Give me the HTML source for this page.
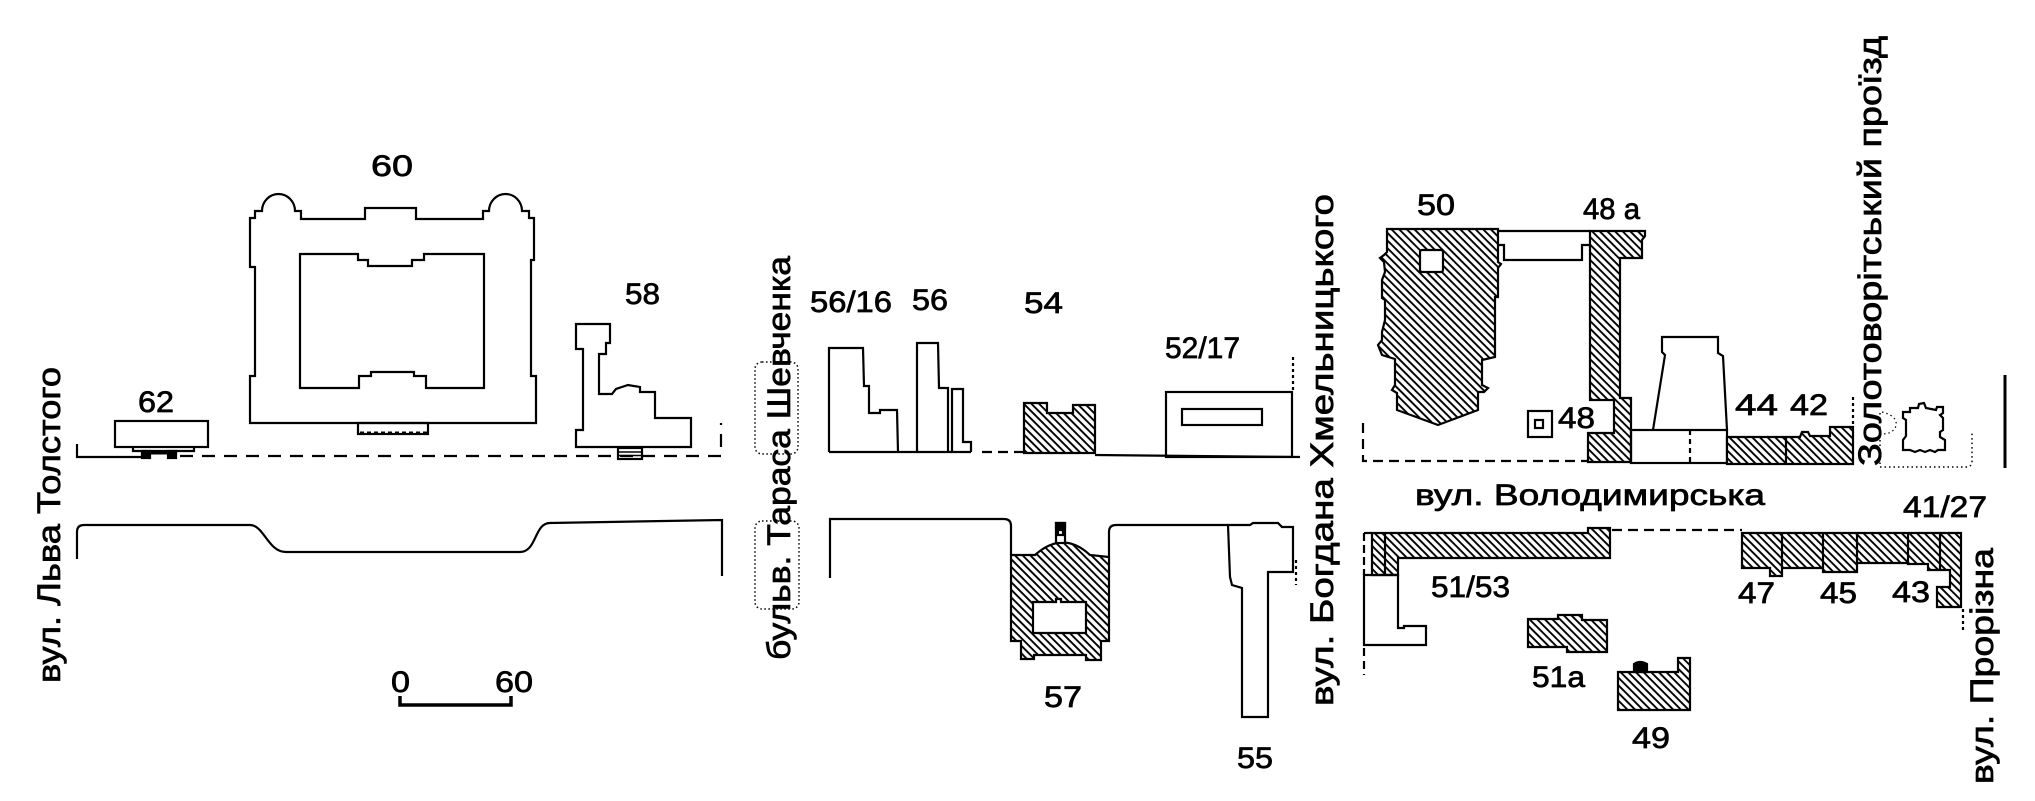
<!DOCTYPE html>
<html>
<head>
<meta charset="utf-8">
<style>
html,body{margin:0;padding:0;background:#fff;}
svg{display:block;}
</style>
</head>
<body>
<svg width="2035" height="801" viewBox="0 0 2035 801" xmlns="http://www.w3.org/2000/svg">
<defs>
<pattern id="h" patternUnits="userSpaceOnUse" width="5.4" height="5.4" patternTransform="rotate(-45)">
<rect width="5.4" height="5.4" fill="#fff"/>
<line x1="1" y1="-1" x2="1" y2="7" stroke="#000" stroke-width="1.9"/>
</pattern>
</defs>
<rect width="2035" height="801" fill="#fff"/>

<g fill="none" stroke="#000" stroke-width="2.2" stroke-linejoin="miter">
<!-- ===== LEFT GROUP ===== -->
<path d="M250,219 L250,267 L255,267 L255,376 L250,376 L250,423 L536,423 L536,376 L531,376 L531,260 L534,260 L534,218 L529,218 L529,211 L522,211 A16.5,17 0 0 0 489,211 L483,211 L483,219 L416,219 L416,208 L365,208 L365,219 L301,219 L301,211 L295,211 A16.5,17 0 0 0 262,211 L255,211 L255,218 L250,218 Z"/>
<path d="M300,254 L358,254 L358,260 L368,260 L368,266 L412,266 L412,260 L424,260 L424,254 L484,254 L484,388 L426,388 L426,376 L414,376 L414,372 L371,372 L371,376 L359,376 L359,388 L300,388 Z"/>
<rect x="358" y="423" width="70" height="11"/>
<line x1="360" y1="433" x2="427" y2="433" stroke-dasharray="4 3" stroke-width="3"/>
<!-- 62 -->
<rect x="115" y="421" width="93" height="26"/>
<path d="M133,447 L133,451 L194,451 L194,447"/>
<rect x="142" y="451" width="8" height="7" fill="#000"/>
<rect x="168" y="451" width="8" height="7" fill="#000"/>
<line x1="150" y1="453" x2="168" y2="453" stroke-width="3"/>
<!-- 58 -->
<path d="M576,324 L610,324 L610,343 L606,343 L606,354 L599,354 L599,394 L612,394 L616,389 L628,385 L640,387 L640,392 L655,392 L655,418 L691,418 L691,447 L576,447 L576,430 L583,430 L583,349 L576,349 Z"/>
<rect x="618" y="448" width="24" height="11"/>
<line x1="618" y1="452" x2="642" y2="452" stroke-width="1.5"/>
<line x1="618" y1="455.5" x2="642" y2="455.5" stroke-width="1.5"/>
<!-- top street left -->
<path d="M77,444 L77,457 L143,457"/>
<path d="M180,456 L721,456 L721,423" stroke-dasharray="13 9"/>
<!-- bottom street left -->
<path d="M77,559 L77,532 Q77,525 84,525 L250,525 C264,525 268,552 286,552 L520,552 C537,552 534,523 550,523 L722,520 L722,576"/>
<!-- scale bar -->
<path d="M400,696 L400,705 L511,705 L511,696" stroke-width="3.5"/>

<!-- ===== MIDDLE GROUP ===== -->
<rect x="755" y="362" width="43" height="92" rx="7" stroke-dasharray="1.5 2.5" stroke-width="1.5"/>
<rect x="755" y="521" width="44" height="88" rx="7" stroke-dasharray="1.5 2.5" stroke-width="1.5"/>
<path d="M829,452 L829,348 L863,348 L864,386 L869,386 L869,413 L880,413 L880,410 L897,410 L898,452"/>
<path d="M917,452 L917,343 L938,343 L939,388 L948,388 L948,452"/>
<path d="M952,452 L952,389 L963,389 L963,442 L971,442 L971,452"/>
<path d="M829,452 L971,452"/>
<path d="M982,452 L1023,452" stroke-dasharray="10 6"/>
<path d="M1024,453 L1024,403 L1047,403 L1047,413 L1073,413 L1073,405 L1095,405 L1095,453 Z" fill="url(#h)"/>
<path d="M1095,455 L1300,457"/>
<rect x="1166" y="392" width="126" height="65"/>
<rect x="1182" y="409" width="80" height="16"/>
<path d="M1293,357 L1293,392" stroke-dasharray="3 3"/>
<path d="M830,578 L830,519 L1004,519 Q1011,519 1011,526 L1011,555"/>
<path d="M1109,557 L1109,532 Q1109,525 1116,525 L1228,525"/>
<path d="M1011,555 L1035,555 Q1063,530 1090,555 L1109,557 L1109,641 L1101,641 L1101,660 L1086,660 L1086,655 L1034,655 L1034,659 L1021,659 L1021,641 L1011,641 Z" fill="url(#h)"/>
<path d="M1033,602 L1056,602 L1056,599 L1061,599 L1061,602 L1086,602 L1086,633 L1033,633 Z" fill="#fff"/>
<rect x="1056" y="523" width="9" height="20" fill="#fff"/>
<rect x="1056" y="523" width="9" height="5" fill="#000"/>
<rect x="1058" y="530" width="5" height="5"/>
<path d="M1228,525 L1250,525 L1253,523 L1278,523 L1282,527 L1293,527 L1293,572 L1268,572 L1268,717 L1242,717 L1242,588 L1232,585 L1230,577 Z"/>
<path d="M1296,560 L1296,585" stroke-dasharray="3 3"/>

<!-- ===== RIGHT GROUP TOP ===== -->
<path d="M1363,423 L1363,461 L1588,461" stroke-dasharray="10 6"/>
<path d="M1387,229 L1498,229 L1498,262 L1501,264 L1498,268 L1498,297 L1495,297 L1495,357 L1482,360 L1482,385 L1488,388 L1484,392 L1478,392 L1478,410 L1438,425 L1397,410 L1397,393 L1392,390 L1395,385 L1395,359 L1382,355 L1378,345 L1382,340 L1382,332 L1385,320 L1385,300 L1382,298 L1382,280 L1385,272 L1384,262 L1380,258 L1384,255 L1387,252 Z" fill="url(#h)"/>
<rect x="1420" y="250" width="23" height="22" rx="2" fill="#fff"/>
<path d="M1498,231 L1590,231"/>
<path d="M1498,245 L1504,245 L1504,260 L1582,260 L1582,245 L1590,245"/>
<path d="M1590,231 L1645,231 L1645,236 L1642,240 L1642,258 L1620,258 L1620,398 L1631,398 L1631,462 L1588,462 L1588,433 L1614,433 L1614,400 L1590,400 Z" fill="url(#h)"/>
<rect x="1528" y="411" width="24" height="26"/>
<rect x="1535" y="420" width="8" height="8"/>
<path d="M1653,430 L1665,355 L1662,352 L1662,337 L1718,337 L1718,353 L1723,356 L1727,430"/>
<rect x="1631" y="430" width="96" height="33"/>
<path d="M1690,430 L1690,463" stroke-dasharray="5 4"/>
<path d="M1727,437 L1800,437 L1802,432 L1808,432 L1810,436 L1830,436 L1830,427 L1853,427 L1853,464 L1727,464 Z" fill="url(#h)"/>
<path d="M1786,437 L1786,464"/>
<path d="M1853,397 L1853,427" stroke-dasharray="3 3"/>
<path d="M1880,413 L1880,467 L1966,467 Q1972,467 1972,461 L1972,433" stroke-dasharray="1.5 3" stroke-width="1.5"/>
<path d="M1882,412 Q1898,416 1896,426 Q1893,434 1882,434" stroke-dasharray="1.5 3" stroke-width="1.2"/>
<path d="M1903,412 L1910,412 L1910,408 L1918,408 L1919,404 L1924,403 L1926,408 L1936,410 L1937,407 L1943,407 L1943,413 L1940,415 L1943,418 L1943,430 L1940,432 L1940,437 L1945,440 L1945,450 L1938,450 L1935,452 L1930,450 L1925,452 L1920,450 L1915,452 L1910,450 L1903,450 L1903,440 L1906,436 L1906,420 L1903,418 Z"/>
<path d="M2005,375 L2005,468" stroke-width="3"/>

<!-- ===== RIGHT GROUP BOTTOM ===== -->
<path d="M1364,533 L1372,533"/>
<path d="M1372,533 L1588,533 L1588,528 L1610,528 L1610,558 L1398,558 L1398,575 L1372,575 Z" fill="url(#h)"/>
<path d="M1385,533 L1385,575"/>
<path d="M1364,533 L1364,575" stroke-dasharray="8 4"/>
<path d="M1364,575 L1398,575 L1398,628 L1404,628 L1404,626 L1426,626 L1426,645 L1364,645 Z"/>
<path d="M1364,648 L1364,675" stroke-dasharray="8 5"/>
<path d="M1612,530 L1742,530" stroke-dasharray="10 6"/>
<path d="M1528,619 L1558,619 L1558,615 L1582,615 L1582,620 L1607,620 L1607,652 L1567,652 L1567,647 L1528,647 Z" fill="url(#h)"/>
<path d="M1618,672 L1678,672 L1678,658 L1690,658 L1690,710 L1618,710 Z" fill="url(#h)"/>
<path d="M1634,672 L1634,664 Q1640,660 1647,664 L1647,672 Z" fill="#000"/>
<path d="M1742,533 L1961,533 L1961,607 L1937,607 L1937,587 L1950,587 L1950,570 L1928,570 L1928,564 L1908,564 L1908,563 L1857,563 L1857,572 L1823,572 L1823,568 L1782,568 L1782,576 L1770,576 L1770,568 L1742,568 Z" fill="url(#h)"/>
<path d="M1782,533 L1782,568 M1823,533 L1823,568 M1857,533 L1857,563 M1908,533 L1908,563 M1940,533 L1940,570"/>
<path d="M1963,609 L1963,632" stroke-dasharray="3 3"/>
</g>

<g font-family="'Liberation Sans', sans-serif" font-size="30" fill="#000" stroke="#000" stroke-width="0.7">
<text x="371" y="176" textLength="42" lengthAdjust="spacingAndGlyphs">60</text>
<text x="138" y="412" textLength="36" lengthAdjust="spacingAndGlyphs">62</text>
<text x="625" y="304" textLength="35" lengthAdjust="spacingAndGlyphs">58</text>
<text x="391" y="692" textLength="19" lengthAdjust="spacingAndGlyphs">0</text>
<text x="495" y="692" textLength="38" lengthAdjust="spacingAndGlyphs">60</text>
<text x="810" y="312" textLength="82" lengthAdjust="spacingAndGlyphs">56/16</text>
<text x="912" y="310" textLength="36" lengthAdjust="spacingAndGlyphs">56</text>
<text x="1024" y="313" textLength="39" lengthAdjust="spacingAndGlyphs">54</text>
<text x="1165" y="358" textLength="75" lengthAdjust="spacingAndGlyphs">52/17</text>
<text x="1044" y="707" textLength="38" lengthAdjust="spacingAndGlyphs">57</text>
<text x="1237" y="768" textLength="36" lengthAdjust="spacingAndGlyphs">55</text>
<text x="1417" y="215" textLength="38" lengthAdjust="spacingAndGlyphs">50</text>
<text x="1583" y="219" textLength="57" lengthAdjust="spacingAndGlyphs">48 а</text>
<text x="1558" y="428" textLength="37" lengthAdjust="spacingAndGlyphs">48</text>
<text x="1735" y="415" textLength="43" lengthAdjust="spacingAndGlyphs">44</text>
<text x="1790" y="415" textLength="38" lengthAdjust="spacingAndGlyphs">42</text>
<text x="1415" y="505" textLength="350" lengthAdjust="spacingAndGlyphs">вул. Володимирська</text>
<text x="1903" y="517" textLength="84" lengthAdjust="spacingAndGlyphs">41/27</text>
<text x="1431" y="597" textLength="79" lengthAdjust="spacingAndGlyphs">51/53</text>
<text x="1532" y="687" textLength="53" lengthAdjust="spacingAndGlyphs">51а</text>
<text x="1632" y="748" textLength="38" lengthAdjust="spacingAndGlyphs">49</text>
<text x="1738" y="603" textLength="37" lengthAdjust="spacingAndGlyphs">47</text>
<text x="1820" y="603" textLength="37" lengthAdjust="spacingAndGlyphs">45</text>
<text x="1892" y="602" textLength="38" lengthAdjust="spacingAndGlyphs">43</text>
</g>

<g font-family="'Liberation Sans', sans-serif" font-size="32" fill="#000" stroke="#000" stroke-width="0.7" text-anchor="middle">
<text transform="translate(60,525) rotate(-90)" textLength="316" lengthAdjust="spacingAndGlyphs">вул. Льва Толстого</text>
<text transform="translate(790,458) rotate(-90)" textLength="404" lengthAdjust="spacingAndGlyphs">бульв. Тараса Шевченка</text>
<text transform="translate(1333,450) rotate(-90)" textLength="512" lengthAdjust="spacingAndGlyphs">вул. Богдана Хмельницького</text>
<text transform="translate(1881,251) rotate(-90)" textLength="430" lengthAdjust="spacingAndGlyphs">Золотоворітський проїзд</text>
<text transform="translate(1993,666) rotate(-90)" textLength="236" lengthAdjust="spacingAndGlyphs">вул. Прорізна</text>
</g>
</svg>
</body>
</html>
